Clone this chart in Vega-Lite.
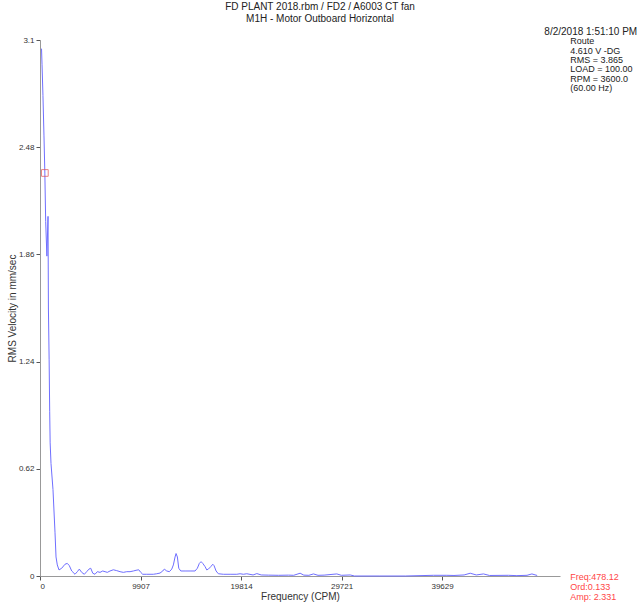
{
  "$schema": "https://vega.github.io/schema/vega-lite/v6.json",
  "autosize": {"type": "none"},
  "width": 520,
  "height": 536,
  "padding": {"left": 40, "top": 40, "right": 80, "bottom": 29},
  "background": "white",
  "config": {
    "font": "Liberation Sans",
    "view": {"stroke": null},
    "axis": {"grid": false, "labelFont": "Liberation Sans", "titleFont": "Liberation Sans", "labelFontSize": 8, "titleFontSize": 10, "titleFontWeight": "normal", "labelColor": "#333", "titleColor": "#333", "domainColor": "#999", "tickColor": "#555", "tickSize": 4}
  },
  "title": {
    "text": ["FD PLANT 2018.rbm / FD2 / A6003 CT fan", "M1H - Motor Outboard Horizontal"],
    "fontSize": 10, "fontWeight": "normal", "color": "#222", "anchor": "middle", "dx": 20, "offset": 3, "lineHeight": 12, "font": "Liberation Sans"
  },
  "datasets": {
    "spectrum": [
      {"f": 150, "a": 3.05}, {"f": 200, "a": 2.96}, {"f": 290, "a": 2.78}, {"f": 390, "a": 2.55}, {"f": 478, "a": 2.33},
      {"f": 560, "a": 2.05}, {"f": 680, "a": 1.85}, {"f": 790, "a": 2.08}, {"f": 830, "a": 1.55}, {"f": 900, "a": 1.25},
      {"f": 955, "a": 0.95}, {"f": 1000, "a": 0.77}, {"f": 1085, "a": 0.65}, {"f": 1280, "a": 0.5}, {"f": 1480, "a": 0.25},
      {"f": 1580, "a": 0.11}, {"f": 1705, "a": 0.064}, {"f": 1873, "a": 0.035}, {"f": 2140, "a": 0.045}, {"f": 2465, "a": 0.068},
      {"f": 2690, "a": 0.073}, {"f": 2890, "a": 0.06}, {"f": 3125, "a": 0.029}, {"f": 3450, "a": 0.01}, {"f": 3680, "a": 0.025},
      {"f": 3875, "a": 0.04}, {"f": 4110, "a": 0.021}, {"f": 4370, "a": 0.01}, {"f": 4600, "a": 0.025}, {"f": 4830, "a": 0.04},
      {"f": 5000, "a": 0.045}, {"f": 5200, "a": 0.016}, {"f": 5420, "a": 0.01}, {"f": 5650, "a": 0.025}, {"f": 5915, "a": 0.021},
      {"f": 6180, "a": 0.029}, {"f": 6410, "a": 0.025}, {"f": 6635, "a": 0.021}, {"f": 6900, "a": 0.029}, {"f": 7230, "a": 0.036},
      {"f": 7560, "a": 0.031}, {"f": 7890, "a": 0.025}, {"f": 8215, "a": 0.021}, {"f": 8550, "a": 0.025}, {"f": 8875, "a": 0.025},
      {"f": 9200, "a": 0.029}, {"f": 9465, "a": 0.033}, {"f": 9730, "a": 0.036}, {"f": 9930, "a": 0.021}, {"f": 10125, "a": 0.01},
      {"f": 10520, "a": 0.01}, {"f": 11170, "a": 0.01}, {"f": 11505, "a": 0.013}, {"f": 11830, "a": 0.017}, {"f": 12100, "a": 0.029},
      {"f": 12255, "a": 0.04}, {"f": 12490, "a": 0.029}, {"f": 12750, "a": 0.025}, {"f": 12985, "a": 0.04}, {"f": 13145, "a": 0.064},
      {"f": 13310, "a": 0.11}, {"f": 13410, "a": 0.13}, {"f": 13540, "a": 0.11}, {"f": 13675, "a": 0.045}, {"f": 13875, "a": 0.029},
      {"f": 14300, "a": 0.029}, {"f": 14790, "a": 0.029}, {"f": 15280, "a": 0.029}, {"f": 15510, "a": 0.045}, {"f": 15705, "a": 0.073},
      {"f": 15875, "a": 0.083}, {"f": 16040, "a": 0.073}, {"f": 16270, "a": 0.054}, {"f": 16435, "a": 0.035}, {"f": 16595, "a": 0.04},
      {"f": 16830, "a": 0.054}, {"f": 17030, "a": 0.068}, {"f": 17155, "a": 0.06}, {"f": 17355, "a": 0.029}, {"f": 17580, "a": 0.013},
      {"f": 18075, "a": 0.01}, {"f": 18735, "a": 0.01}, {"f": 19395, "a": 0.01}, {"f": 19720, "a": 0.013}, {"f": 20045, "a": 0.01},
      {"f": 20380, "a": 0.013}, {"f": 21000, "a": 0.006}, {"f": 21370, "a": 0.014}, {"f": 21800, "a": 0.006}, {"f": 22500, "a": 0.005},
      {"f": 23500, "a": 0.004}, {"f": 24500, "a": 0.005}, {"f": 25000, "a": 0.004}, {"f": 25636, "a": 0.016}, {"f": 26000, "a": 0.005},
      {"f": 26500, "a": 0.004}, {"f": 26950, "a": 0.012}, {"f": 27400, "a": 0.004}, {"f": 28000, "a": 0.005}, {"f": 29255, "a": 0.012},
      {"f": 29700, "a": 0.004}, {"f": 30570, "a": 0.006}, {"f": 31000, "a": 0.0}, {"f": 33500, "a": 0.0}, {"f": 36000, "a": 0.0},
      {"f": 38780, "a": 0.004}, {"f": 40100, "a": 0.004}, {"f": 40800, "a": 0.003}, {"f": 41800, "a": 0.006}, {"f": 42400, "a": 0.016},
      {"f": 43000, "a": 0.006}, {"f": 43710, "a": 0.012}, {"f": 44300, "a": 0.003}, {"f": 46175, "a": 0.004}, {"f": 47000, "a": 0.002},
      {"f": 48000, "a": 0.004}, {"f": 48480, "a": 0.012}, {"f": 49000, "a": 0.003}
    ],
    "marker": [{"f": 478.12, "a": 2.331}],
    "info": [
      {"f": 52260, "a": 3.094, "t": "Route"},
      {"f": 52260, "a": 3.039, "t": "4.610 V -DG"},
      {"f": 52260, "a": 2.985, "t": "RMS = 3.865"},
      {"f": 52260, "a": 2.930, "t": "LOAD = 100.00"},
      {"f": 52260, "a": 2.875, "t": "RPM = 3600.0"},
      {"f": 52260, "a": 2.820, "t": "(60.00 Hz)"}
    ],
    "date": [{"f": 58860, "a": 3.146, "t": "8/2/2018 1:51:10 PM"}],
    "cursor": [
      {"f": 52260, "a": -0.006, "t": "Freq:478.12"},
      {"f": 52260, "a": -0.064, "t": "Ord:0.133"},
      {"f": 52260, "a": -0.122, "t": "Amp: 2.331"}
    ]
  },
  "layer": [
    {
      "data": {"name": "spectrum"},
      "mark": {"type": "line", "color": "#6f6fff", "strokeWidth": 1},
      "encoding": {
        "x": {"field": "f", "type": "quantitative", "scale": {"domain": [0, 51250], "nice": false, "zero": true},
              "axis": {"title": "Frequency (CPM)", "values": [0, 9907, 19814, 29721, 39629], "format": "d", "labelPadding": 2, "titlePadding": 1}},
        "y": {"field": "a", "type": "quantitative", "scale": {"domain": [0, 3.1], "nice": false},
              "axis": {"title": "RMS Velocity in mm/sec", "values": [0, 0.62, 1.24, 1.86, 2.48, 3.1], "labelExpr": "'' + datum.value", "labelPadding": 2, "titlePadding": 1}}
      }
    },
    {
      "data": {"name": "marker"},
      "mark": {"type": "point", "shape": "square", "filled": false, "color": "#e05050", "size": 45, "strokeWidth": 1},
      "encoding": {"x": {"field": "f", "type": "quantitative"}, "y": {"field": "a", "type": "quantitative"}}
    },
    {
      "data": {"name": "info"},
      "mark": {"type": "text", "align": "left", "baseline": "middle", "fontSize": 9, "color": "#222", "font": "Liberation Sans"},
      "encoding": {"x": {"field": "f", "type": "quantitative"}, "y": {"field": "a", "type": "quantitative"}, "text": {"field": "t"}}
    },
    {
      "data": {"name": "date"},
      "mark": {"type": "text", "align": "right", "baseline": "middle", "fontSize": 10, "color": "#222", "font": "Liberation Sans"},
      "encoding": {"x": {"field": "f", "type": "quantitative"}, "y": {"field": "a", "type": "quantitative"}, "text": {"field": "t"}}
    },
    {
      "data": {"name": "cursor"},
      "mark": {"type": "text", "align": "left", "baseline": "middle", "fontSize": 9, "color": "#ff4646", "font": "Liberation Sans"},
      "encoding": {"x": {"field": "f", "type": "quantitative"}, "y": {"field": "a", "type": "quantitative"}, "text": {"field": "t"}}
    }
  ]
}
